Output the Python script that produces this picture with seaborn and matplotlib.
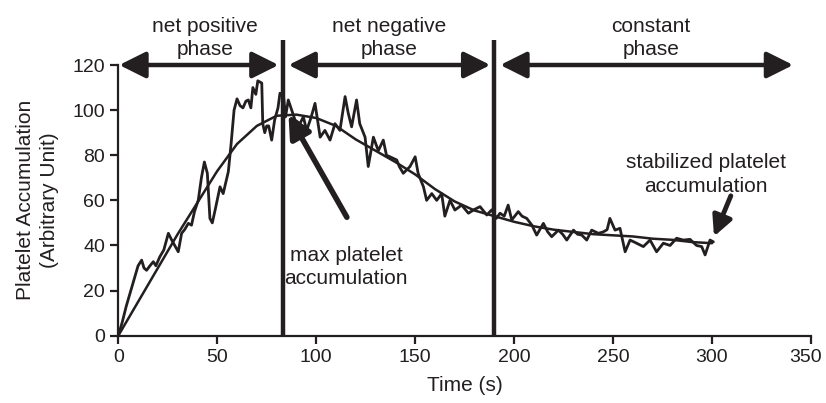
import matplotlib
matplotlib.use("Agg")
import matplotlib.pyplot as plt
import matplotlib.transforms as mtransforms
import pandas as pd
import seaborn as sns

time_raw = [0, 2, 4, 6, 8, 9, 10, 11.8, 13, 14.3, 16, 17.7, 19, 21, 23, 25.3, 27, 28.5,
            30.3, 32, 33.5, 35.4, 37, 38.5, 40.4, 42, 43.5, 45, 46.3, 47.5, 49, 51.4, 53,
            55.6, 57, 58.5, 60, 61.5, 63, 64.5, 65.7, 67, 68, 69.5, 70.5, 72.5, 73, 74, 75,
            76, 77.5, 79, 80.7, 81.7, 83.5, 84.5, 85.9, 87.6, 89.3, 91.8, 93.5, 95.2, 97.5,
            99.4, 102, 104.4, 107, 109.5, 112, 114.6, 116.2, 117.9, 120.4, 122, 124.7, 126.3,
            128.9, 131.4, 133.9, 135.5, 137.3, 140.7, 142, 144, 147.4, 150, 151.5, 154.2,
            155.8, 158.4, 160.9, 163.4, 165, 167.6, 170.1, 173.5, 176.9, 180, 182.8, 186.2,
            188.7, 191, 192.9, 195, 197, 198.8, 202.1, 204, 206.4, 209, 211.4, 214.8, 217,
            219, 222.4, 224.5, 226.6, 230, 232, 234.2, 236.7, 239.2, 242.6, 245, 247, 248.4,
            251, 253.5, 256.1, 258.6, 261.9, 265.3, 268.7, 272, 275.4, 278.8, 282.1, 285.5,
            288.9, 292.2, 294.8, 296.5, 299, 300.7]
platelet_raw = [0, 6, 13, 19, 25, 28, 31, 33.5, 30, 29, 31, 32.8, 31, 35, 38, 45.4, 42.4, 40,
                37.2, 45.4, 47, 49.8, 49, 55, 60, 70, 77, 72, 52, 50, 56, 66, 63,
                72.7, 85, 100, 105, 102, 101, 104, 104.5, 101, 110, 107, 113, 112, 94, 90, 93,
                93, 86.7, 95.6, 101, 107.5, 106, 97, 104.5, 100, 95.6, 94, 97, 91, 97,
                103, 88, 91, 86.7, 94, 91, 106, 98.6, 92.6, 104.5, 94, 88, 75,
                88, 82, 86.7, 80, 79.3, 77.9, 75, 72, 75, 79.3, 72, 66,
                60, 63, 60, 63, 53, 60, 55.7, 57.9, 54.3, 56, 57.2, 53.5,
                55.8, 52, 54.3, 53, 57.9, 51.3, 55, 53, 52, 49, 44.6, 49.8, 46,
                43.9, 46.8, 45, 42.4, 46.8, 45, 44.6, 42.4, 46.8, 45.4, 46, 47, 52,
                46.8, 47.6, 37.2, 42.4, 41, 39.5, 42.4, 37.2, 41, 40, 43.2, 42.4,
                42.7, 40, 39.5, 35.8, 42.4, 41.6]

# smooth fitted curve
time_fit = [0, 10, 20, 30, 40, 50, 60, 70, 80, 90, 100, 110, 120, 130, 140, 150, 160,
            170, 180, 190, 200, 210, 220, 230, 240, 250, 260, 270, 280, 290, 300]
platelet_fit = [0, 15, 30, 45, 59, 73, 85, 93, 97.5, 98, 96.5, 93, 87, 82, 77, 71.5, 65,
                59.5, 55.5, 53, 50.5, 48.5, 47, 46, 45, 44.5, 44, 43, 42.5, 41.5, 41]

phase_bounds = [83, 190]
phase_labels = ["net positive\nphase", "net negative\nphase", "constant\nphase"]
phase_label_x = [44, 137, 269]
phase_arrows = [(0.5, 81), (86, 188), (193, 341)]

ink = "#231f20"
fs = 15

sns.set_style("ticks")
plt.rcParams["font.family"] = ["Liberation Sans", "DejaVu Sans"]

fig = plt.figure(figsize=(8.26, 4.03), dpi=100)
ax = fig.add_axes([0.1432, 0.167, 0.8386, 0.6717])

df_raw = pd.DataFrame({"time": time_raw, "platelet": platelet_raw})
df_fit = pd.DataFrame({"time": time_fit, "platelet": platelet_fit})
sns.lineplot(data=df_raw, x="time", y="platelet", ax=ax, color=ink, lw=2.0, sort=False)
sns.lineplot(data=df_fit, x="time", y="platelet", ax=ax, color=ink, lw=1.8)

ax.set_xlim(0, 350)
ax.set_ylim(0, 120)
ax.set_xticks(range(0, 351, 50))
ax.set_yticks(range(0, 121, 20))
sns.despine(ax=ax)
for s in ["left", "bottom"]:
    ax.spines[s].set_linewidth(1.6)
    ax.spines[s].set_color(ink)
ax.tick_params(length=6, width=1.6, color=ink, labelsize=14, labelcolor=ink)

# keep the last x tick label inside the canvas
last = ax.get_xticklabels()[-1]
last.set_transform(last.get_transform() +
                   mtransforms.ScaledTranslation(-0.05, 0, fig.dpi_scale_trans))

ax.set_xlabel("Time (s)", fontsize=fs, color=ink, labelpad=7)
ax.set_ylabel("Platelet Accumulation\n(Arbitrary Unit)", fontsize=fs, color=ink,
              labelpad=10, linespacing=1.3)

# phase boundaries
for xb in phase_bounds:
    ax.plot([xb, xb], [0, 131], color=ink, lw=3.2, clip_on=False, solid_capstyle="butt")

# phase arrows and labels
for (x0, x1), lab, lx in zip(phase_arrows, phase_labels, phase_label_x):
    ax.annotate("", xy=(x0, 120), xytext=(x1, 120), annotation_clip=False,
                arrowprops=dict(arrowstyle="<|-|>", lw=3.2, color=ink, mutation_scale=40,
                                shrinkA=0, shrinkB=0))
    ax.text(lx, 122.5, lab, ha="center", va="bottom", fontsize=fs, color=ink,
            linespacing=1.3)

# callouts
ax.annotate("", xy=(86, 98), xytext=(115.5, 52.5),
            arrowprops=dict(arrowstyle="-|>", lw=4, color=ink, mutation_scale=34,
                            shrinkA=0, shrinkB=0))
ax.text(115, 30.5, "max platelet\naccumulation", ha="center", va="center", fontsize=fs,
        color=ink, linespacing=1.3)
ax.annotate("", xy=(301, 44), xytext=(309.5, 62),
            arrowprops=dict(arrowstyle="-|>", lw=3.5, color=ink, mutation_scale=30,
                            shrinkA=0, shrinkB=0))
ax.text(297, 71.5, "stabilized platelet\naccumulation", ha="center", va="center",
        fontsize=fs, color=ink, linespacing=1.3)

fig.savefig("out.png", dpi=100)
